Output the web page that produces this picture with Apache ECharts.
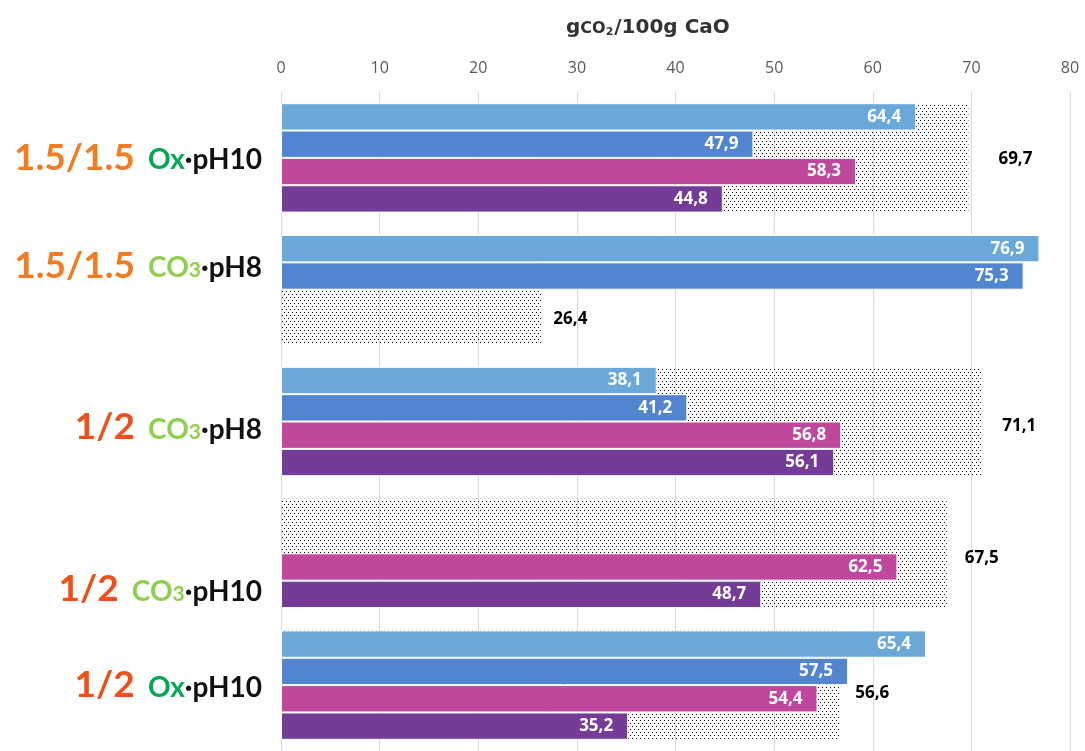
<!DOCTYPE html>
<html>
<head>
<meta charset="utf-8">
<script src="https://cdn.jsdelivr.net/npm/echarts@6/dist/echarts.min.js"></script>
<style>html,body{margin:0;padding:0;background:#fff}#c{width:1085px;height:751px}</style>
</head>
<body>
<div id="c"></div>
<script>
const categories = ['1.5/1.5 Ox·pH10', '1.5/1.5 CO3·pH8', '1/2 CO3·pH8', '1/2 CO3·pH10', '1/2 Ox·pH10'];
const seriesA = [64.4, 76.9, 38.1, null, 65.4];
const seriesB = [47.9, 75.3, 41.2, null, 57.5];
const seriesC = [58.3, null, 56.8, 62.5, 54.4];
const seriesD = [44.8, null, 56.1, 48.7, 35.2];
const totals = [69.7, 26.4, 71.1, 67.5, 56.6];
const axisMin = 0, axisMax = 80, axisStep = 10;

// layout tweaks (not data)
const labelShift = [0, -24, 6, 36, 0];
const totalLabelOffset = [[0, 1], [-18, 29], [-10, 5], [-12, 5], [-14, 8]];

const fmt = v => String(v).replace('.', ',');

function dotPattern() {
  const c = document.createElement('canvas');
  c.width = 4; c.height = 6;
  const ctx = c.getContext('2d');
  ctx.fillStyle = '#000';
  ctx.fillRect(0, 0, 1, 1);
  ctx.fillRect(2, 3, 1, 1);
  return c;
}

function yLabel(name, idx) {
  const parts = name.split(' ');
  const ratio = parts[0];
  const rest = parts[1].split('·');
  const reag = rest[0], ph = rest[1];
  let s = (ratio === '1.5/1.5' ? '{r1|' : '{r2|') + ratio + '}{sp0| }';
  if (reag === 'Ox') s += '{ox|Ox}';
  else s += '{co|CO}{co3|3}';
  s += '{k|·' + ph + '}';
  const sh = labelShift[idx];
  if (sh > 0) s = '{pad' + idx + '| }\n' + s;
  else if (sh < 0) s = s + '\n{pad' + idx + '| }';
  return s;
}

const F = 'Lato';
const rich = {
  r1: {color: '#F47B20', fontSize: 37, fontWeight: 'bold', fontFamily: F, verticalAlign: 'bottom'},
  r2: {color: '#F24E1A', fontSize: 37, fontWeight: 'bold', fontFamily: F, verticalAlign: 'bottom'},
  sp0: {fontSize: 28, fontFamily: F, padding: [0, 6, 0, 0]},
  ox: {color: '#00A950', fontSize: 28, fontWeight: 'bold', fontFamily: F, verticalAlign: 'bottom', padding: [0, 0, 2, 0]},
  co: {color: '#8FCF4F', fontSize: 28, fontWeight: 'bold', fontFamily: F, verticalAlign: 'bottom', padding: [0, 0, 2, 0]},
  co3: {color: '#8FCF4F', fontSize: 21, fontWeight: 'bold', fontFamily: F, verticalAlign: 'bottom', padding: [0, 0, 3, 0]},
  k: {color: '#111', fontSize: 28, fontWeight: 'bold', fontFamily: F, verticalAlign: 'bottom', padding: [0, 0, 2, 0]}
};
labelShift.forEach((sh, i) => { rich['pad' + i] = {fontSize: 4, lineHeight: Math.abs(sh) * 2}; });

const colors = ['#6AA8D9', '#5185D0', '#C0489C', '#743C97'];
const valueSeries = [seriesA, seriesB, seriesC, seriesD];

const chart = echarts.init(document.getElementById('c'), null, {renderer: 'canvas'});
const pattern = dotPattern();

const series = [{
  type: 'bar',
  yAxisIndex: 1,
  z: 1,
  barWidth: 109,
  data: totals.map((v, i) => ({
    value: v,
    label: {offset: totalLabelOffset[i]}
  })),
  itemStyle: {color: {image: pattern, repeat: 'repeat'}},
  label: {
    show: true, position: 'right', distance: 30,
    color: '#000', fontWeight: 'bold', fontSize: 17, fontFamily: 'Open Sans',
    formatter: p => fmt(p.value)
  },
  emphasis: {disabled: true}
}];
valueSeries.forEach((arr, k) => {
  series.push({
    type: 'bar',
    yAxisIndex: 0,
    z: 2,
    barGap: '0%',
    barCategoryGap: '17%',
    data: arr.map(v => v === null ? '-' : v),
    itemStyle: {color: colors[k], borderColor: '#fff', borderWidth: 1},
    label: {
      show: true, position: 'insideRight', distance: 15,
      color: '#fff', fontWeight: 'bold', fontSize: 17, fontFamily: 'Open Sans',
      formatter: p => fmt(p.value)
    },
    emphasis: {disabled: true}
  });
});

chart.setOption({
  animation: false,
  backgroundColor: '#fff',
  title: {
    text: '{g|g}{co|CO}{s|2}{g|/100g CaO}',
    left: 561, top: 13,
    textStyle: {
      rich: {
        g: {fontSize: 20, fontWeight: 'bold', color: '#333', fontFamily: 'DejaVu Sans', verticalAlign: 'bottom'},
        co: {fontSize: 16, fontWeight: 'bold', color: '#333', fontFamily: 'DejaVu Sans', verticalAlign: 'bottom', padding: [0, 0, 1, 0]},
        s: {fontSize: 11, fontWeight: 'bold', color: '#333', fontFamily: 'DejaVu Sans', verticalAlign: 'bottom', padding: [0, 1, 0, 0]}
      }
    }
  },
  grid: {left: 281, right: 15, top: 92, height: 666, containLabel: false},
  xAxis: {
    type: 'value', position: 'top', min: axisMin, max: axisMax, interval: axisStep,
    axisLine: {show: false}, axisTick: {show: false},
    axisLabel: {color: '#595959', fontSize: 16, fontFamily: 'Open Sans', margin: 16},
    splitLine: {lineStyle: {color: '#D9D9D9', width: 1}}
  },
  yAxis: [{
    type: 'category', inverse: true, data: categories,
    axisLine: {show: false}, axisTick: {show: false},
    axisLabel: {
      margin: 19,
      formatter: (v, i) => yLabel(v, i),
      rich: rich
    }
  }, {
    type: 'category', inverse: true, data: categories, show: false
  }],
  series: series
});
</script>
</body>
</html>
